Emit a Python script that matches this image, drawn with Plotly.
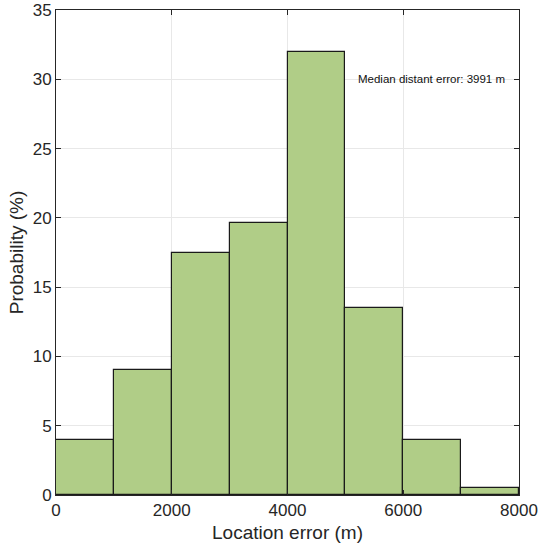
import plotly.graph_objects as go

bin_starts = [0, 1000, 2000, 3000, 4000, 5000, 6000, 7000]
bin_width = 1000
probability = [4.0, 9.0, 17.5, 19.6, 32.0, 13.5, 4.0, 0.5]
x_ticks = [0, 2000, 4000, 6000, 8000]
y_ticks = [0, 5, 10, 15, 20, 25, 30, 35]
annotation_text = "Median distant error: 3991 m"

centers = [s + bin_width / 2 for s in bin_starts]

fig = go.Figure()
fig.add_trace(go.Bar(
    x=centers, y=probability, width=[bin_width] * len(centers),
    marker=dict(color="#b0cd87", line=dict(color="#1a1a1a", width=1.2)),
    showlegend=False,
))

font_family = "Liberation Sans, Arial, sans-serif"
axis_common = dict(
    showline=True, mirror="ticks", linecolor="#262626", linewidth=1,
    ticks="inside", ticklen=5, tickcolor="#262626",
    showgrid=True, gridcolor="#e8e8e8", gridwidth=1,
    zeroline=False, automargin=False,
    tickfont=dict(family=font_family, size=17, color="#262626"),
)

fig.update_layout(
    width=540, height=550,
    margin=dict(l=56, r=21, t=10, b=55, autoexpand=False),
    plot_bgcolor="white", paper_bgcolor="white",
    bargap=0,
    xaxis=dict(range=[0, 8000], tickvals=x_ticks,
               title=dict(text="Location error (m)", font=dict(family=font_family, size=19, color="#262626"), standoff=6),
               **axis_common),
    yaxis=dict(range=[0, 35], tickvals=y_ticks,
               title=dict(text="Probability (%)", font=dict(family=font_family, size=19, color="#262626"), standoff=4),
               **axis_common),
    annotations=[dict(x=7795, y=30, xref="x", yref="y", text=annotation_text,
                      showarrow=False, xanchor="right", yanchor="middle",
                      font=dict(family=font_family, size=11.5, color="#111111"))],
)

fig.write_html("out.html", config={"displayModeBar": False},
               post_script="document.body.style.margin='0';document.body.style.overflow='hidden';")
